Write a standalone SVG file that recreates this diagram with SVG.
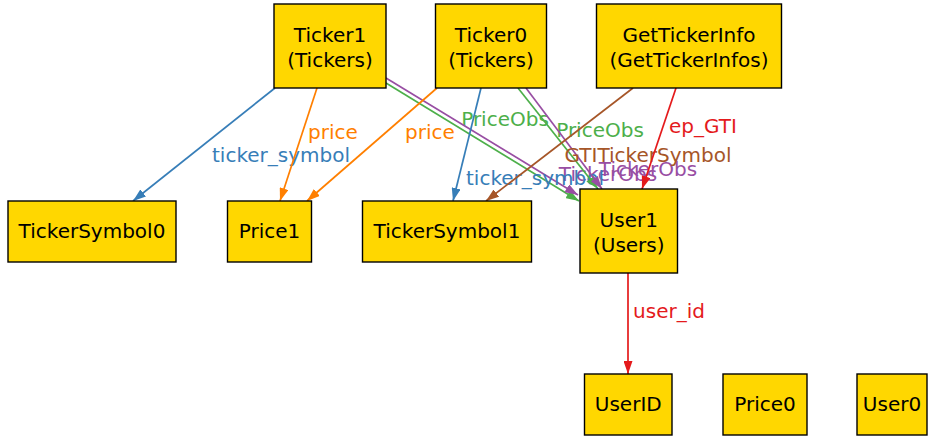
<svg xmlns="http://www.w3.org/2000/svg" width="934" height="437" viewBox="0 0 934 437">
  <style>
    .node rect { fill: #ffd700; stroke: #000; stroke-width: 1.4; }
    .node text { font-family: "DejaVu Sans", sans-serif; font-size: 20px; fill: #000; text-anchor: middle; }
    .edge line { stroke-width: 1.7; fill: none; }
    .lbl { font-family: "DejaVu Sans", sans-serif; font-size: 20px; text-anchor: middle; }
    .blue { stroke: #377eb8; fill: #377eb8; }
    .orange { stroke: #ff7f00; fill: #ff7f00; }
    .green { stroke: #4daf4a; fill: #4daf4a; }
    .purple { stroke: #984ea3; fill: #984ea3; }
    .brown { stroke: #a65628; fill: #a65628; }
    .red { stroke: #e41a1c; fill: #e41a1c; }
    text.blue, text.orange, text.green, text.purple, text.brown, text.red { stroke: none; }
  </style>
  <defs>
    <marker id="ah-blue" viewBox="0 0 13 9" refX="13" refY="4.5" markerWidth="13" markerHeight="9" markerUnits="userSpaceOnUse" orient="auto"><path d="M0,0 L13,4.5 L0,9 Z" fill="#377eb8"/></marker>
    <marker id="ah-orange" viewBox="0 0 13 9" refX="13" refY="4.5" markerWidth="13" markerHeight="9" markerUnits="userSpaceOnUse" orient="auto"><path d="M0,0 L13,4.5 L0,9 Z" fill="#ff7f00"/></marker>
    <marker id="ah-green" viewBox="0 0 13 9" refX="13" refY="4.5" markerWidth="13" markerHeight="9" markerUnits="userSpaceOnUse" orient="auto"><path d="M0,0 L13,4.5 L0,9 Z" fill="#4daf4a"/></marker>
    <marker id="ah-purple" viewBox="0 0 13 9" refX="13" refY="4.5" markerWidth="13" markerHeight="9" markerUnits="userSpaceOnUse" orient="auto"><path d="M0,0 L13,4.5 L0,9 Z" fill="#984ea3"/></marker>
    <marker id="ah-brown" viewBox="0 0 13 9" refX="13" refY="4.5" markerWidth="13" markerHeight="9" markerUnits="userSpaceOnUse" orient="auto"><path d="M0,0 L13,4.5 L0,9 Z" fill="#a65628"/></marker>
    <marker id="ah-red" viewBox="0 0 13 9" refX="13" refY="4.5" markerWidth="13" markerHeight="9" markerUnits="userSpaceOnUse" orient="auto"><path d="M0,0 L13,4.5 L0,9 Z" fill="#e41a1c"/></marker>
  </defs>

  <g id="connectors" class="edge">
    <!-- Ticker1 -> TickerSymbol0 -->
    <line class="blue" x1="275" y1="88" x2="133" y2="201" marker-end="url(#ah-blue)"/>
    <text class="lbl blue" x="281" y="162">ticker_symbol</text>
    <!-- Ticker1 -> Price1 -->
    <line class="orange" x1="317" y1="88" x2="280" y2="201" marker-end="url(#ah-orange)"/>
    <text class="lbl orange" x="333" y="139">price</text>
    <!-- Ticker1 -> User1 -->
    <line class="green" x1="386" y1="83" x2="579" y2="201" marker-end="url(#ah-green)"/>
    <text class="lbl green" x="505" y="126">PriceObs</text>
    <line class="purple" x1="386" y1="78" x2="578" y2="195" marker-end="url(#ah-purple)"/>
    <text class="lbl purple" x="608" y="181">TickerObs</text>
    <!-- Ticker0 -> Price1 -->
    <line class="orange" x1="437" y1="88" x2="307" y2="201" marker-end="url(#ah-orange)"/>
    <text class="lbl orange" x="430" y="139">price</text>
    <!-- Ticker0 -> TickerSymbol1 -->
    <line class="blue" x1="481" y1="88" x2="453" y2="201" marker-end="url(#ah-blue)"/>
    <text class="lbl blue" x="535" y="185">ticker_symbol</text>
    <!-- Ticker0 -> User1 -->
    <line class="green" x1="518" y1="88" x2="598" y2="189" marker-end="url(#ah-green)"/>
    <text class="lbl green" x="600" y="137">PriceObs</text>
    <line class="purple" x1="526" y1="88" x2="602" y2="189" marker-end="url(#ah-purple)"/>
    <text class="lbl purple" x="648" y="176">TickerObs</text>
    <!-- GetTickerInfo -> TickerSymbol1 -->
    <line class="brown" x1="633" y1="88" x2="486" y2="201" marker-end="url(#ah-brown)"/>
    <text class="lbl brown" x="648" y="162">GTITickerSymbol</text>
    <!-- GetTickerInfo -> User1 -->
    <line class="red" x1="676" y1="88" x2="642" y2="189" marker-end="url(#ah-red)"/>
    <text class="lbl red" x="703" y="133">ep_GTI</text>
    <!-- User1 -> UserID -->
    <line class="red" x1="628" y1="273" x2="628" y2="374" marker-end="url(#ah-red)"/>
    <text class="lbl red" x="669" y="318">user_id</text>
  </g>

  <g id="Ticker1" class="node">
    <rect x="274" y="4" width="112" height="84"/>
    <text x="330" y="42">Ticker1</text>
    <text x="330" y="66.5">(Tickers)</text>
  </g>
  <g id="Ticker0" class="node">
    <rect x="435.5" y="4" width="111" height="84"/>
    <text x="491" y="42">Ticker0</text>
    <text x="491" y="66.5">(Tickers)</text>
  </g>
  <g id="GetTickerInfo" class="node">
    <rect x="596.5" y="4" width="185" height="84"/>
    <text x="689" y="42">GetTickerInfo</text>
    <text x="689" y="66.5">(GetTickerInfos)</text>
  </g>
  <g id="TickerSymbol0" class="node">
    <rect x="8" y="201" width="168" height="61"/>
    <text x="92" y="238">TickerSymbol0</text>
  </g>
  <g id="Price1" class="node">
    <rect x="227.5" y="201" width="84" height="61"/>
    <text x="269.5" y="238">Price1</text>
  </g>
  <g id="TickerSymbol1" class="node">
    <rect x="362.5" y="201" width="169" height="61"/>
    <text x="447" y="238">TickerSymbol1</text>
  </g>
  <g id="User1" class="node">
    <rect x="580" y="189" width="97.5" height="84"/>
    <text x="628.75" y="227">User1</text>
    <text x="628.75" y="251.5">(Users)</text>
  </g>
  <g id="UserID" class="node">
    <rect x="584.5" y="374" width="87.5" height="61"/>
    <text x="628.25" y="411">UserID</text>
  </g>
  <g id="Price0" class="node">
    <rect x="723" y="374" width="84" height="61"/>
    <text x="765" y="411">Price0</text>
  </g>
  <g id="User0" class="node">
    <rect x="857" y="374" width="70" height="61"/>
    <text x="892" y="411">User0</text>
  </g>
</svg>
